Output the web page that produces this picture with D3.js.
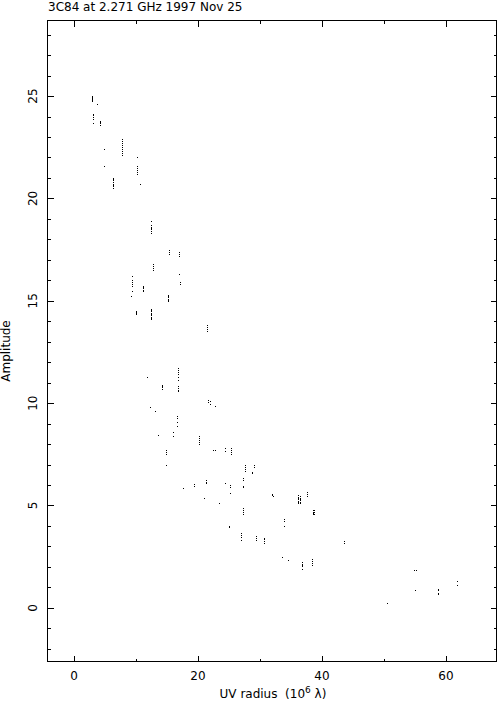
<!DOCTYPE html>
<html>
<head>
<meta charset="utf-8">
<script src="https://cdn.jsdelivr.net/npm/d3@7"></script>
<style>
body { margin: 0; background: #fff; }
svg text { font-family: "DejaVu Sans", sans-serif; font-size: 12px; fill: #000; }
</style>
</head>
<body>
<svg id="chart" width="497" height="704"></svg>
<script>
// uv radius (10^6 lambda) and amplitudes, one entry per dash
var uvRadius = [2.95, 3.76, 3.1, 4.25, 4.9, 7.8, 4.9, 10.2, 10.2, 6.35, 10.7, 12.4, 12.4, 15.4, 17.0,
  12.8, 17.0, 17.1, 9.4, 11.2, 9.2, 15.2, 10.05, 12.4, 21.4, 16.8, 11.8, 14.2, 16.8, 21.6, 22.0, 22.7,
  12.3, 13.1, 16.6, 13.6, 15.9, 20.2, 22.5, 22.7, 24.4, 25.3, 14.9, 14.9, 27.6, 29.1, 28.7, 27.3, 21.3,
  19.4, 17.6, 24.4, 25.2, 31.9, 32.1, 20.9, 23.4, 27.2, 25.0, 27.0, 29.4, 30.6, 36.2, 36.4, 37.6, 38.5,
  38.7, 33.8, 43.6, 33.6, 34.6, 36.7, 38.4, 50.5, 54.9, 55.1, 55.0, 58.7, 61.8];
var amplitudes = [
  [25.0, 24.95, 24.9, 24.85, 24.8, 24.75],
  [24.6],
  [24.1, 24.05, 24.0, 23.9, 23.7],
  [23.8, 23.75, 23.7, 23.6],
  [22.4],
  [22.9, 22.8, 22.7, 22.6, 22.5, 22.4, 22.3, 22.2, 22.1],
  [21.6],
  [22.0],
  [21.6, 21.5, 21.4, 21.3, 21.2],
  [21.0, 20.95, 20.9, 20.8, 20.7, 20.65, 20.6, 20.5],
  [20.7],
  [18.9],
  [18.7, 18.6, 18.55, 18.5, 18.4, 18.3],
  [17.5, 17.4, 17.3],
  [17.4, 17.3, 17.2],
  [16.8, 16.7, 16.6, 16.5],
  [16.3],
  [15.9, 15.8],
  [16.2, 16.0, 15.9, 15.8, 15.7, 15.5],
  [15.7, 15.65, 15.6, 15.55, 15.5],
  [15.25],
  [15.3, 15.25, 15.2, 15.1, 15.05, 15.0],
  [14.5, 14.45, 14.4, 14.35],
  [14.6, 14.55, 14.5, 14.4, 14.35, 14.3, 14.2, 14.15, 14.1],
  [13.8, 13.7, 13.6, 13.5],
  [11.7, 11.6, 11.5, 11.4, 11.3, 11.15],
  [11.27],
  [10.9, 10.85, 10.8, 10.7],
  [10.85, 10.75, 10.65, 10.6],
  [10.15, 10.05],
  [10.1, 9.95],
  [9.85],
  [9.8],
  [9.6],
  [9.35, 9.25, 9.1, 8.9],
  [8.45],
  [8.6, 8.4],
  [8.4, 8.3, 8.2, 8.1, 8.0],
  [7.7],
  [7.7],
  [7.8, 7.65],
  [7.8, 7.7, 7.6, 7.5],
  [7.7, 7.6, 7.5],
  [7.0],
  [7.0, 6.9, 6.8, 6.7],
  [7.0, 6.9],
  [6.65, 6.6],
  [6.35, 6.25, 5.95, 5.9],
  [6.25, 6.15, 6.1],
  [6.05, 5.95],
  [5.85],
  [6.1],
  [6.0, 5.9, 5.6],
  [5.55, 5.5],
  [5.45],
  [5.37],
  [5.12],
  [4.88, 4.8, 4.7, 4.59],
  [4.0, 3.95],
  [3.66, 3.55, 3.45, 3.33],
  [3.5, 3.4, 3.33],
  [3.43, 3.35, 3.25, 3.19],
  [5.5, 5.4, 5.35, 5.3, 5.2, 5.15, 5.1],
  [5.45, 5.35, 5.3, 5.25, 5.15, 5.1],
  [5.64, 5.55, 5.45],
  [4.76, 4.7, 4.65, 4.6],
  [4.76, 4.7, 4.6],
  [4.34, 4.25, 3.98],
  [3.28, 3.17],
  [2.49],
  [2.36],
  [2.24, 2.15, 2.1, 2.05, 1.92],
  [2.4, 2.3, 2.2, 2.1],
  [0.24],
  [1.87],
  [1.87],
  [0.86],
  [0.94, 0.85, 0.75, 0.7],
  [1.33, 1.1]
];
var xMajor = [0, 20, 40, 60];
var xMinor = [10, 30, 50];
var yMajor = [0, 5, 10, 15, 20, 25];
var yMinor = [-2, -1, 1, 2, 3, 4, 6, 7, 8, 9, 11, 12, 13, 14, 16, 17, 18, 19, 21, 22, 23, 24, 26, 27, 28];

var points = [];
uvRadius.forEach(function(u, i) {
  amplitudes[i].forEach(function(a) { points.push([u, a]); });
});

var pLeft = 47.5, pRight = 496.5, pTop = 20.5, pBottom = 661.5;
var x = d3.scaleLinear().domain([-4.27, 68.15]).range([pLeft, pRight]);
var y = d3.scaleLinear().domain([-2.62, 28.69]).range([pBottom, pTop]);

var svg = d3.select("#chart");

// frame
svg.append("rect")
  .attr("x", pLeft).attr("y", pTop)
  .attr("width", pRight - pLeft).attr("height", pBottom - pTop)
  .attr("fill", "none").attr("stroke", "#000").attr("shape-rendering", "crispEdges");

var ticks = svg.append("g").attr("stroke", "#000").attr("shape-rendering", "crispEdges");
function xTick(v, len) {
  var px = Math.round(x(v)) + 0.5;
  ticks.append("line").attr("x1", px).attr("x2", px).attr("y1", pBottom).attr("y2", pBottom - len);
  ticks.append("line").attr("x1", px).attr("x2", px).attr("y1", pTop).attr("y2", pTop + len);
}
function yTick(v, len) {
  var py = Math.round(y(v)) + 0.5;
  ticks.append("line").attr("x1", pLeft).attr("x2", pLeft + len).attr("y1", py).attr("y2", py);
  ticks.append("line").attr("x1", pRight).attr("x2", pRight - len).attr("y1", py).attr("y2", py);
}
xMajor.forEach(function(v) { xTick(v, 6); });
xMinor.forEach(function(v) { xTick(v, 3); });
yMajor.forEach(function(v) { yTick(v, 6); });
yMinor.forEach(function(v) { yTick(v, 3); });

// tick labels
svg.selectAll(".xl").data(xMajor).enter().append("text")
  .attr("x", function(d) { return x(d); })
  .attr("y", 680)
  .attr("text-anchor", "middle")
  .text(function(d) { return d; });

svg.selectAll(".yl").data(yMajor).enter().append("text")
  .attr("transform", function(d) { return "translate(37," + y(d) + ") rotate(-90)"; })
  .attr("text-anchor", "middle")
  .text(function(d) { return d; });

// axis titles
var xt = svg.append("text").attr("x", 273).attr("y", 698).attr("text-anchor", "middle");
xt.append("tspan").text("UV radius\u00a0\u00a0(10");
xt.append("tspan").attr("dy", -5).attr("font-size", "9px").text("6");
xt.append("tspan").attr("dy", 5).text(" \u03bb)");

svg.append("text")
  .attr("transform", "translate(10,351) rotate(-90)")
  .attr("text-anchor", "middle")
  .text("Amplitude");

svg.append("text").attr("x", 48).attr("y", 11).attr("font-size", "12.5px")
  .text("3C84 at 2.271 GHz 1997 Nov 25");

// visibilities
svg.append("g").selectAll("rect").data(points).enter().append("rect")
  .attr("x", function(d) { return Math.round(x(d[0])); })
  .attr("y", function(d) { return Math.round(y(d[1])); })
  .attr("width", 1).attr("height", 1)
  .attr("fill", "#000");
</script>
</body>
</html>
